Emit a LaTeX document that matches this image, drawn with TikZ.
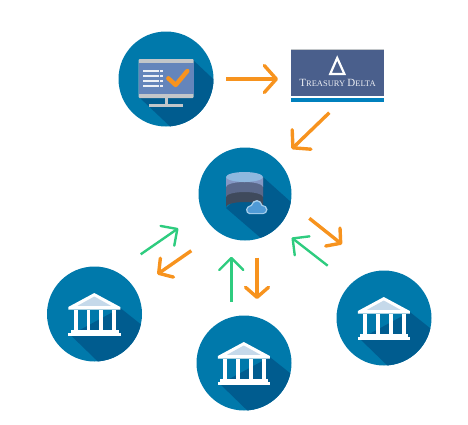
\documentclass[tikz,border=0pt]{standalone}
\usepackage{fontspec}
\newfontfamily\logofont{Liberation Serif}
\usetikzlibrary{arrows.meta}
\definecolor{discblue}{HTML}{0079AB}
\definecolor{discdark}{HTML}{005C8F}
\definecolor{orangeA}{HTML}{F7931E}
\definecolor{greenA}{HTML}{2ECC7F}
\definecolor{frameG}{HTML}{C2C6C9}
\definecolor{screenB}{HTML}{6485BB}
\definecolor{logoB}{HTML}{4A5F8C}
\definecolor{logoBand}{HTML}{0080BD}
\definecolor{roofB}{HTML}{C5D9EA}
\definecolor{dbA}{HTML}{8FB8DF}
\definecolor{dbB}{HTML}{8497C4}
\definecolor{dbC}{HTML}{5A688A}
\definecolor{dbD}{HTML}{3F4A5C}
\definecolor{cloudA}{HTML}{4F9AD6}
\definecolor{cloudB}{HTML}{A6CFEC}
\newcommand{\logoinitial}[1]{{\fontsize{11}{11}\selectfont #1}}
\tikzset{
  discnode/.style={circle,fill=discblue,inner sep=0pt,minimum size=#1},
  logonode/.style={rectangle,inner sep=0pt,minimum width=93pt,minimum height=53pt},
  obig/.style={draw=orangeA,line width=3.4pt,-{Straight Barb[round,length=12pt,width=27pt,line width=3.4pt]}},
  osmall/.style={draw=orangeA,line width=3.4pt,-{Straight Barb[round,length=10pt,width=23pt,line width=3.4pt]}},
  garrow/.style={draw=greenA,line width=2.4pt,-{Straight Barb[round,length=12pt,width=24pt,line width=2.4pt]}},
  bankpart/.style={fill=white,draw=none},
  bank/.pic={
    \fill[white] (-26.2,-7) -- (-0.2,-21) -- (25.8,-7) -- (25.8,-4.5) -- (-26.2,-4.5) -- cycle;
    \fill[roofB] (-17,-8.2) -- (-0.2,-17.5) -- (16.5,-8.2) -- cycle;
    \fill[bankpart] (-21,-4) rectangle (-17,17);
    \fill[bankpart] (-7.8,-4) rectangle (-4.5,17);
    \fill[bankpart] (4.8,-4) rectangle (8.8,17);
    \fill[bankpart] (17.8,-4) rectangle (21.5,17);
    \fill[bankpart] (-24,16) rectangle (24,19);
    \fill[bankpart] (-26.5,18.5) rectangle (26,21.5);
  }
}
\begin{document}
\begin{tikzpicture}[x=1pt,y=-1pt]
\useasboundingbox (0,0) rectangle (468,424);
% discs
\node[discnode=95pt] (monitor) at (166,79) {};
\node[discnode=93pt] (db) at (245,194) {};
\node[discnode=95pt] (bankL) at (94.5,314) {};
\node[discnode=95pt] (bankM) at (244,363) {};
\node[discnode=95pt] (bankR) at (384,318) {};
% long shadows
\begin{scope}
\clip (166,79) circle (47.5);
\fill[discdark] (193,60) -- (260,123) -- (196,151) -- (140,98) -- cycle;
\end{scope}
\begin{scope}
\clip (245,194) circle (46.5);
\fill[discdark] (263,177) -- (320,228) -- (298,270) -- (226,208) -- cycle;
\end{scope}
\foreach \cx/\cy in {94.5/314,244/363,384/318}{
\begin{scope}
\clip (\cx,\cy) circle (47.5);
\fill[discdark] (\cx+25.8,\cy-6) -- (\cx+85,\cy+41) -- (\cx+42,\cy+85) -- (\cx-24,\cy+21) -- cycle;
\end{scope}
}
% monitor icon
\fill[frameG, rounded corners=1pt] (138.7,59) rectangle (193.7,98);
\fill[screenB] (138.7,62.7) rectangle (193.7,94);
\fill[frameG] (165,98) rectangle (167.5,104.5);
\fill[frameG] (149,104) rectangle (183,106.5);
\foreach \yy in {71,75.7,80.7,85.7}{
  \fill[white!88!screenB] (143,\yy-0.9) rectangle (159,\yy+0.9);
  \fill[white!88!screenB] (160.2,\yy-0.9) rectangle (162.8,\yy+0.9);
}
\draw[orangeA,line width=4.4pt,line cap=round,line join=round] (168.3,78.3) -- (175.7,85) -- (187.3,71);
% logo
\node[logonode] (logo) at (337.5,75.5) {};
\fill[logoB] (291,49.5) rectangle (384,95.7);
\fill[frameG] (291,49) rectangle (384,49.8);
\fill[logoBand] (291,98) rectangle (384,102.3);
\draw[white,line width=2.2pt,line join=miter] (337.2,58) -- (330.2,74) -- (344.4,74) -- cycle;
\node[text=white!90!logoB,inner sep=0pt,font=\logofont\fontsize{8.5}{8.5}\selectfont] (logotext) at (337.5,82.7) {\logoinitial{T}REASURY \logoinitial{D}ELTA};
% database icon
\fill[dbD] (226,187) -- (226,207) arc[start angle=180,end angle=360,x radius=18.5,y radius=5] -- (263,187) -- cycle;
\fill[dbC] (226,177) -- (226,197) arc[start angle=180,end angle=360,x radius=18.5,y radius=5] -- (263,177) -- cycle;
\fill[dbB] (226,177) -- (226,187) arc[start angle=180,end angle=360,x radius=18.5,y radius=5] -- (263,177) -- cycle;
\fill[dbA] (244.5,177) ellipse (18.5 and 5);
% cloud
\fill[cloudB] (249.5,214.2) to[out=180,in=270] (246,209.5) to[out=90,in=200] (251,205) to[out=70,in=180] (257,200) to[out=0,in=110] (262.5,205) to[out=0,in=90] (267.5,209.5) to[out=270,in=0] (263,214.2) -- cycle;
\fill[cloudA] (250,213) to[out=180,in=270] (247.4,209.5) to[out=90,in=200] (252,206) to[out=70,in=180] (257,201.5) to[out=0,in=110] (261.5,206) to[out=0,in=90] (266,209.5) to[out=270,in=0] (263,213) -- cycle;
% banks
\pic at (bankL) {bank};
\pic at (bankM) {bank};
\pic at (bankR) {bank};
% arrows
\draw[obig] ([shift={(60,0)}]monitor.center) -- ([shift={(-59.5,3.5)}]logo.center);
\draw[obig] ([shift={(-8.2,37.2)}]logo.center) -- ([shift={(46.7,-45)}]db.center);
\draw[garrow] ([shift={(46.2,-59.7)}]bankL.center) -- ([shift={(-66.7,34.3)}]db.center);
\draw[osmall] ([shift={(-53.7,56.7)}]db.center) -- ([shift={(62.8,-39.7)}]bankL.center);
\draw[garrow] ([shift={(-12.7,-61.3)}]bankM.center) -- ([shift={(-13.7,62.7)}]db.center);
\draw[osmall] ([shift={(12,63.7)}]db.center) -- ([shift={(13,-64)}]bankM.center);
\draw[osmall] ([shift={(64.3,24.3)}]db.center) -- ([shift={(-42,-73.7)}]bankR.center);
\draw[garrow] ([shift={(-56.3,-52.3)}]bankR.center) -- ([shift={(46.7,43.7)}]db.center);
\end{tikzpicture}
\end{document}
